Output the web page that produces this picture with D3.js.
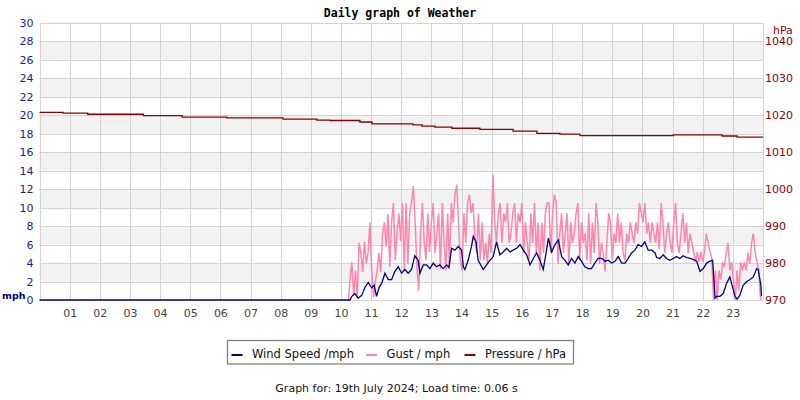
<!DOCTYPE html>
<html>
<head>
<meta charset="utf-8">
<script src="https://cdn.jsdelivr.net/npm/d3@7"></script>
<style>
  body { margin: 0; background: #fff; }
  svg { display: block; font-family: "DejaVu Sans", sans-serif; }
</style>
</head>
<body>
<div id="chart"></div>
<script>
// hour ticks along the bottom
const HOURS = d3.range(1, 24);
const MPH_TICKS = d3.range(0, 31, 2);
const HPA_TICKS = [970, 980, 990, 1000, 1010, 1020, 1030, 1040];

// pressure steps: [hour, hPa]
const pressure = [
  [0.00, 1020.8], [0.78, 1020.6], [1.60, 1020.3], [3.45, 1019.9], [4.73, 1019.5],
  [6.22, 1019.3], [8.08, 1019.0], [9.20, 1018.7], [9.64, 1018.6], [10.63, 1018.2],
  [11.03, 1017.7], [12.39, 1017.4], [12.69, 1017.1], [13.12, 1016.8], [13.68, 1016.5],
  [14.61, 1016.2], [15.71, 1015.7], [16.50, 1015.1], [17.26, 1014.9], [17.93, 1014.5],
  [21.02, 1014.7], [22.64, 1014.4], [23.14, 1014.1], [24.00, 1014.1]
];

// wind speed: [hour, mph]
const wind = [
  [0.00, 0], [10.30, 0], [10.36, 0.4], [10.46, 0.7], [10.57, 0.2], [10.69, 0.5], [10.80, 1.4],
  [10.91, 1.9], [11.02, 1.3], [11.10, 1.6], [11.18, 0.4], [11.27, 1.4], [11.35, 1.8],
  [11.46, 2.9], [11.57, 2.2], [11.68, 2.2], [11.79, 3.1], [11.90, 3.6], [12.01, 2.9],
  [12.12, 3.3], [12.23, 2.9], [12.34, 3.3], [12.45, 4.8], [12.56, 4.3], [12.62, 2.9],
  [12.73, 3.8], [12.84, 3.8], [12.95, 3.4], [13.06, 4.0], [13.17, 3.6], [13.28, 3.8],
  [13.39, 3.4], [13.51, 3.8], [13.58, 3.5], [13.67, 5.6], [13.78, 5.4], [13.89, 5.8],
  [14.00, 5.4], [14.06, 3.6], [14.11, 3.3], [14.22, 4.3], [14.33, 5.8], [14.39, 6.9],
  [14.48, 6.3], [14.55, 4.3], [14.67, 3.6], [14.72, 3.3], [14.83, 3.8], [14.94, 4.3],
  [15.05, 4.7], [15.16, 6.3], [15.27, 4.9], [15.38, 5.2], [15.50, 5.6], [15.61, 5.2],
  [15.71, 5.4], [15.83, 5.6], [15.94, 6.0], [16.05, 5.4], [16.16, 4.9], [16.27, 3.8],
  [16.38, 4.5], [16.49, 5.1], [16.60, 4.3], [16.71, 3.3], [16.82, 5.4], [16.88, 6.7],
  [16.99, 5.2], [17.10, 6.0], [17.21, 6.5], [17.32, 4.7], [17.43, 4.3], [17.54, 3.8],
  [17.65, 4.5], [17.76, 4.0], [17.87, 4.7], [17.98, 4.2], [18.09, 3.6], [18.20, 3.4],
  [18.31, 3.4], [18.42, 4.0], [18.53, 4.5], [18.65, 4.5], [18.76, 4.2], [18.87, 4.3],
  [18.98, 4.0], [19.09, 4.2], [19.20, 4.7], [19.31, 4.0], [19.42, 4.0], [19.53, 4.5],
  [19.64, 5.1], [19.75, 5.4], [19.86, 6.0], [19.97, 5.8], [20.08, 6.3], [20.19, 5.4],
  [20.31, 5.4], [20.42, 5.1], [20.47, 4.6], [20.58, 4.5], [20.69, 4.9], [20.80, 4.5],
  [20.91, 4.3], [21.02, 4.5], [21.13, 4.7], [21.24, 4.5], [21.35, 4.8], [21.47, 4.6],
  [21.58, 4.5], [21.68, 4.4], [21.80, 4.2], [21.91, 3.1], [22.02, 3.4], [22.13, 4.0],
  [22.24, 4.2], [22.33, 4.3], [22.41, 0.2], [22.46, 0.4], [22.57, 0.4], [22.68, 0.7],
  [22.79, 1.8], [22.90, 2.5], [22.99, 1.4], [23.07, 0.4], [23.14, 0.1], [23.23, 0.5],
  [23.34, 1.6], [23.46, 2.0], [23.56, 2.2], [23.68, 2.5], [23.79, 3.4], [23.84, 3.3],
  [23.93, 1.6], [23.95, 0.4]
];

// gust / mph: one reading every 0.06 h from 10.30 h (calm before, hidden under wind line)
const GUST_CALM = [[10.25, 0]];
const GUST_START = 10.30, GUST_STEP = 0.06;
const gustValues = [
  2.2, 4.1, 0.4, 3.2, 0.2, 6.2, 5.1, 3.0, 6.3, 4.0,
  5.1, 8.4, 3.2, 0.3, 1.9, 3.2, 5.1, 3.0, 7.2, 8.4,
  5.8, 9.3, 3.6, 8.4, 10.5, 4.3, 7.2, 9.4, 6.4, 10.5,
  3.2, 10.5, 3.9, 9.4, 10.5, 12.3, 8.4, 3.6, 1.0, 7.0,
  10.5, 6.4, 4.3, 9.4, 5.2, 8.4, 10.5, 5.1, 7.2, 9.4,
  3.3, 10.5, 6.2, 3.2, 9.4, 3.6, 10.5, 8.4, 11.4, 12.5,
  8.4, 4.3, 3.2, 9.4, 6.2, 10.5, 11.4, 9.4, 10.5, 6.9,
  5.1, 9.4, 4.3, 8.4, 4.3, 6.2, 3.9, 7.2, 5.1, 13.6,
  8.4, 6.2, 9.4, 10.5, 6.2, 9.4, 8.4, 10.5, 6.2, 7.2,
  9.4, 10.5, 6.2, 9.4, 8.4, 10.5, 5.1, 8.4, 6.2, 4.3,
  9.4, 6.2, 10.5, 5.1, 8.4, 3.2, 8.4, 5.1, 9.4, 10.5,
  10.5, 5.1, 9.4, 11.4, 10.5, 3.9, 7.2, 9.4, 5.1, 7.2,
  9.4, 3.9, 8.4, 6.2, 7.2, 9.4, 10.5, 4.3, 8.4, 6.2,
  7.2, 4.3, 9.4, 3.9, 8.4, 5.1, 10.5, 8.4, 3.9, 6.2,
  5.1, 3.1, 6.2, 9.4, 8.4, 4.3, 7.2, 6.2, 9.4, 6.2,
  8.4, 5.1, 4.3, 7.2, 6.2, 8.4, 7.2, 6.2, 8.4, 7.2,
  10.5, 9.4, 8.4, 10.5, 7.2, 8.4, 6.2, 8.4, 7.2, 6.2,
  8.4, 5.5, 10.5, 8.4, 5.1, 7.2, 8.4, 6.2, 5.1, 8.4,
  10.5, 6.2, 5.1, 7.2, 9.4, 6.2, 8.4, 5.1, 7.2, 6.2,
  5.2, 4.1, 5.2, 4.1, 5.2, 4.1, 5.2, 7.2, 6.2, 5.2,
  4.6, 0, 3.2, 0, 3.2, 2.2, 4.1, 3.6, 5.1, 6.2,
  3.2, 4.1, 2.2, 0, 3.2, 1.0, 4.1, 3.2, 4.1, 3.2,
  5.1, 3.9, 6.2, 7.2, 5.1, 4.1, 3.2, 0
];
const gust = GUST_CALM.concat(gustValues.map((v, i) => [GUST_START + i * GUST_STEP, v]));

const LEGEND = [
  { label: "Wind Speed /mph", color: "#000080" },
  { label: "Gust / mph",      color: "#ff85ad" },
  { label: "Pressure / hPa",  color: "#8b0000" }
];

const W = 800, H = 400;
const svg = d3.select("#chart").append("svg").attr("width", W).attr("height", H);

const x  = d3.scaleLinear().domain([0, 24]).range([39.5, 763]);
const yL = d3.scaleLinear().domain([0, 30]).range([300, 23]);
const yR = d3.scaleLinear().domain([970, 1045]).range([300, 23]);

// alternating grey bands
const bands = d3.range(2, 30, 4);
svg.append("g").selectAll("rect").data(bands).join("rect")
    .attr("x", x(0)).attr("width", x(24) - x(0))
    .attr("y", d => yL(d + 2)).attr("height", d => yL(d) - yL(d + 2))
    .attr("fill", "#f2f2f2");

// grid
const grid = svg.append("g").attr("stroke", "#d3d3d3").attr("stroke-width", 1);
grid.selectAll(".h").data(MPH_TICKS).join("line")
    .attr("x1", x(0)).attr("x2", x(24))
    .attr("y1", d => Math.round(yL(d)) + 0.5).attr("y2", d => Math.round(yL(d)) + 0.5);
grid.selectAll(".v").data(d3.range(0, 25)).join("line")
    .attr("x1", d => Math.round(x(d)) + 0.5).attr("x2", d => Math.round(x(d)) + 0.5)
    .attr("y1", yL(30)).attr("y2", yL(0));
grid.append("line").attr("x1", 40.5).attr("x2", 40.5).attr("y1", yL(30)).attr("y2", yL(0));

// axes
const axL = svg.append("g").attr("transform", `translate(${x(0)},0)`)
    .call(d3.axisLeft(yL).tickValues(MPH_TICKS).tickSize(0).tickPadding(6));
axL.select(".domain").remove();
axL.selectAll("text").attr("fill", "#1e1e8c").attr("font-size", 11).attr("font-family", "DejaVu Sans");

const axR = svg.append("g").attr("transform", `translate(${x(24)},0)`)
    .call(d3.axisRight(yR).tickValues(HPA_TICKS).tickFormat(d3.format("d")).tickSize(0).tickPadding(2));
axR.select(".domain").remove();
axR.selectAll("text").attr("fill", "#8b0000").attr("font-size", 11).attr("font-family", "DejaVu Sans");

const axB = svg.append("g").attr("transform", `translate(0,${yL(0)})`)
    .call(d3.axisBottom(x).tickValues(HOURS).tickFormat(d3.format("02d")).tickSize(0).tickPadding(9));
axB.select(".domain").remove();
axB.selectAll("text").attr("fill", "#444").attr("font-size", 11).attr("font-family", "DejaVu Sans");

svg.append("text").attr("x", 2).attr("y", 299).attr("font-size", 9.5).attr("font-weight", "bold")
    .attr("fill", "#000080").text("mph");
svg.append("text").attr("x", 773).attr("y", 34).attr("font-size", 11)
    .attr("fill", "#8b0000").text("hPa");

// series
const lineL = d3.line().x(d => x(d[0])).y(d => yL(d[1]));
svg.append("path").datum(gust).attr("d", lineL)
    .attr("fill", "none").attr("stroke", "#ff85ad").attr("stroke-width", 1.5);
svg.append("path").datum(wind).attr("d", lineL)
    .attr("fill", "none").attr("stroke", "#000080").attr("stroke-width", 1.3);
svg.append("path").datum(pressure)
    .attr("d", d3.line().curve(d3.curveStepAfter).x(d => x(d[0])).y(d => yR(d[1])))
    .attr("fill", "none").attr("stroke", "#8b0000").attr("stroke-width", 1.3);

// title
svg.append("text").attr("x", 400).attr("y", 17).attr("text-anchor", "middle")
    .attr("font-family", "DejaVu Sans Mono").attr("font-weight", "bold").attr("font-size", 11.5)
    .text("Daily graph of Weather");

// legend
const lg = svg.append("g");
lg.append("rect").attr("x", 227.5).attr("y", 340.5).attr("width", 346).attr("height", 23.5)
    .attr("fill", "#fff").attr("stroke", "#808080").attr("stroke-width", 1.3);
const lgX = [231.5, 366, 464.5];
LEGEND.forEach((d, i) => {
  lg.append("line").attr("x1", lgX[i]).attr("x2", lgX[i] + 11).attr("y1", 355).attr("y2", 355)
      .attr("stroke", d.color).attr("stroke-width", 2);
  lg.append("text").attr("x", lgX[i] + 20.5).attr("y", 357.5).attr("font-size", 11.5)
      .attr("fill", "#111").text(d.label);
});

// footer
svg.append("text").attr("x", 396.5).attr("y", 392).attr("text-anchor", "middle")
    .attr("font-size", 11).attr("fill", "#111")
    .text("Graph for: 19th July 2024; Load time: 0.06 s");
</script>
</body>
</html>
